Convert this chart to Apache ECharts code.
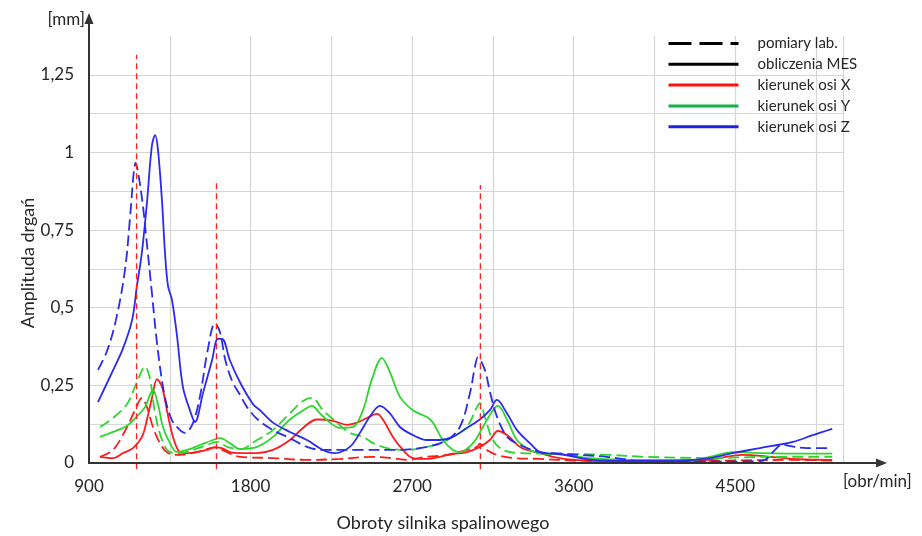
<!DOCTYPE html>
<html>
<head>
<meta charset="utf-8">
<script src="https://cdn.jsdelivr.net/npm/echarts@6/dist/echarts.min.js"></script>
<style>
  html, body { margin: 0; padding: 0; background: #fff; }
  #chart { width: 922px; height: 536px; }
</style>
</head>
<body>
<div id="chart"></div>
<script>
// Engine speed [obr/min] vs vibration amplitude [mm]; pairs are [rpm, amplitude]

// X direction
const xComputed = [
  [961,0.02],[1034,0.016],[1090,0.032],[1145,0.048],[1195,0.084],[1223,0.14],[1251,0.21],[1279,0.27],
  [1307,0.245],[1334,0.17],[1368,0.084],[1407,0.035],[1446,0.032],[1501,0.035],[1557,0.042],[1602,0.05],
  [1640,0.048],[1685,0.035],[1741,0.032],[1836,0.032],[1925,0.042],[2019,0.074],[2092,0.113],[2170,0.14],
  [2259,0.136],[2337,0.123],[2392,0.13],[2448,0.145],[2504,0.158],[2537,0.14],[2593,0.084],[2649,0.042],
  [2704,0.016],[2782,0.013],[2855,0.02],[2927,0.029],[3005,0.035],[3077,0.052],[3133,0.074],[3178,0.103],
  [3228,0.09],[3300,0.052],[3339,0.042],[3412,0.032],[3484,0.02],[3600,0.01],[3800,0.005],[4100,0.004],
  [4350,0.01],[4540,0.026],[4700,0.02],[4850,0.012],[5040,0.01]
];
const xMeasured = [
  [961,0.02],[1034,0.042],[1112,0.116],[1156,0.17],[1195,0.21],[1223,0.18],[1256,0.116],[1295,0.064],
  [1340,0.032],[1407,0.026],[1501,0.035],[1602,0.05],[1650,0.04],[1741,0.02],[1925,0.016],[2114,0.01],
  [2298,0.013],[2482,0.02],[2600,0.015],[2671,0.01],[2782,0.02],[2894,0.026],[3005,0.042],[3061,0.052],
  [3077,0.062],[3116,0.042],[3172,0.026],[3261,0.016],[3412,0.013],[3600,0.008],[4000,0.004],[4500,0.008],
  [4800,0.01],[5040,0.008]
];

// Y direction
const yComputed = [
  [961,0.084],[1034,0.10],[1112,0.12],[1167,0.15],[1212,0.18],[1256,0.235],[1284,0.19],[1312,0.116],
  [1351,0.064],[1390,0.035],[1446,0.042],[1518,0.058],[1591,0.074],[1630,0.08],[1685,0.064],[1741,0.045],
  [1836,0.052],[1925,0.084],[2019,0.14],[2114,0.177],[2142,0.184],[2186,0.16],[2242,0.13],[2298,0.113],
  [2370,0.116],[2426,0.17],[2476,0.27],[2532,0.338],[2576,0.293],[2632,0.213],[2704,0.17],[2782,0.148],
  [2816,0.13],[2871,0.074],[2927,0.042],[2966,0.035],[3039,0.064],[3094,0.116],[3150,0.17],[3178,0.184],
  [3228,0.14],[3284,0.074],[3356,0.042],[3412,0.032],[3562,0.026],[3707,0.015],[4000,0.01],[4264,0.01],
  [4358,0.02],[4486,0.035],[4637,0.032],[4821,0.03],[5040,0.03]
];
const yMeasured = [
  [961,0.116],[1034,0.145],[1112,0.19],[1167,0.26],[1212,0.31],[1240,0.27],[1268,0.16],[1307,0.074],
  [1351,0.035],[1407,0.032],[1479,0.042],[1557,0.058],[1613,0.068],[1669,0.052],[1741,0.045],[1836,0.074],
  [1925,0.106],[2019,0.16],[2092,0.2],[2142,0.21],[2203,0.17],[2281,0.13],[2353,0.097],[2426,0.084],
  [2482,0.064],[2560,0.048],[2671,0.042],[2782,0.052],[2855,0.064],[2927,0.084],[3005,0.116],[3061,0.18],
  [3077,0.193],[3105,0.148],[3150,0.074],[3206,0.042],[3300,0.032],[3500,0.03],[3800,0.026],[3985,0.02],
  [4358,0.016],[4700,0.02],[5040,0.02]
];

// Z direction
const zComputed = [
  [950,0.196],[1035,0.30],[1090,0.37],[1140,0.46],[1167,0.57],[1195,0.68],[1223,0.84],[1250,1.02],
  [1268,1.056],[1284,1.01],[1307,0.84],[1323,0.68],[1340,0.57],[1362,0.525],[1390,0.41],[1423,0.245],
  [1462,0.17],[1490,0.132],[1535,0.225],[1585,0.33],[1618,0.40],[1641,0.40],[1685,0.33],[1741,0.26],
  [1813,0.19],[1852,0.17],[1925,0.13],[2019,0.10],[2114,0.074],[2203,0.042],[2270,0.032],[2353,0.052],
  [2409,0.097],[2465,0.15],[2521,0.184],[2576,0.16],[2632,0.116],[2704,0.09],[2782,0.074],[2855,0.074],
  [2927,0.084],[3005,0.113],[3077,0.14],[3133,0.17],[3172,0.203],[3228,0.16],[3284,0.106],[3356,0.064],
  [3412,0.035],[3484,0.03],[3560,0.025],[3707,0.01],[3900,0.007],[4150,0.007],[4358,0.016],[4486,0.032],
  [4637,0.048],[4821,0.068],[4932,0.09],[5040,0.11]
];
const zMeasured = [
  [950,0.30],[1000,0.36],[1050,0.46],[1100,0.62],[1130,0.80],[1150,0.94],[1160,0.966],[1175,0.93],[1200,0.83],
  [1220,0.72],[1250,0.55],[1280,0.38],[1320,0.22],[1360,0.14],[1400,0.11],[1435,0.097],[1480,0.13],
  [1520,0.22],[1560,0.36],[1602,0.45],[1630,0.42],[1660,0.33],[1700,0.26],[1741,0.22],[1780,0.18],
  [1840,0.14],[1925,0.106],[2019,0.08],[2114,0.052],[2203,0.042],[2400,0.042],[2600,0.042],[2782,0.052],
  [2894,0.074],[2966,0.116],[3022,0.225],[3050,0.31],[3066,0.34],[3105,0.30],[3133,0.23],[3172,0.15],
  [3228,0.085],[3300,0.058],[3412,0.035],[3484,0.032],[3634,0.026],[3785,0.02],[4000,0.005],[4300,0.004],
  [4600,0.005],[4665,0.01],[4709,0.035],[4765,0.06],[4800,0.055],[4900,0.048],[5040,0.048]
];

// Resonance speeds marked with vertical dashed lines
const resonanceRpm = [1165, 1610, 3080];
const resonanceTop = [1.315, 0.902, 0.895];

// Axis ticks
const xTickStep = 450;
const xLabelStep = 900;
const yTickStep = 0.125;
const yLabelStep = 0.25;

const legendNames = ['pomiary lab.', 'obliczenia MES', 'kierunek osi X', 'kierunek osi Y', 'kierunek osi Z'];

const RED = '#ff1a1a', GREEN = '#2fd52f', BLUE = '#2a2af0';
const FONT = 'Lato, "Open Sans", sans-serif';
const TXT = '#262626';

function dataLine(name, data, color, dashed) {
  return {
    name: name, type: 'line', data: data, symbol: 'none', smooth: 0.35,
    lineStyle: { color: color, width: 1.8, type: dashed ? [11, 5] : 'solid' },
    itemStyle: { color: color }, z: 3
  };
}
function legendLine(name, color, dashed) {
  return {
    name: name, type: 'line', data: [], symbol: 'none',
    lineStyle: { color: color, width: 3, type: dashed ? [23, 8] : 'solid' },
    itemStyle: { color: color }
  };
}

const series = [
  legendLine(legendNames[0], '#000', true),
  legendLine(legendNames[1], '#000', false),
  legendLine(legendNames[2], '#ff1010', false),
  legendLine(legendNames[3], '#16b04a', false),
  legendLine(legendNames[4], '#2020e0', false),
  dataLine('X MES', xComputed, RED, false),
  dataLine('X lab', xMeasured, RED, true),
  dataLine('Y MES', yComputed, GREEN, false),
  dataLine('Y lab', yMeasured, GREEN, true),
  dataLine('Z MES', zComputed, BLUE, false),
  dataLine('Z lab', zMeasured, BLUE, true)
];
resonanceRpm.forEach(function (rpm, i) {
  series.push({
    name: 'rez' + i, type: 'line', symbol: 'none', clip: false, z: 4,
    data: [[rpm, -0.02], [rpm, resonanceTop[i]]],
    lineStyle: { color: '#ff2020', width: 1.3, type: [6, 4] }
  });
});

function fmtY(v) {
  const r = Math.round(v * 1000) / 1000;
  if (Math.abs(r / yLabelStep - Math.round(r / yLabelStep)) > 1e-6) return '';
  if (r > 1.3) return '';
  return String(r).replace('.', ',');
}
function fmtX(v) {
  return (v % xLabelStep === 0) ? String(v) : '';
}

const chart = echarts.init(document.getElementById('chart'), null, { renderer: 'canvas' });
chart.setOption({
  animation: false,
  backgroundColor: '#fff',
  textStyle: { fontFamily: FONT },
  grid: { left: 89, right: 79, top: 36, bottom: 73, containLabel: false },
  legend: {
    data: legendNames, orient: 'vertical', left: 662, top: 31,
    itemWidth: 70, itemHeight: 14, itemGap: 5.8,
    itemStyle: { opacity: 0 },
    lineStyle: { width: 3 },
    textStyle: { fontFamily: FONT, fontSize: 15, color: TXT, padding: [0, 0, 0, 14] },
    selectedMode: false
  },
  xAxis: {
    type: 'value', min: 900, max: 5100, interval: xTickStep,
    axisLine: { show: false }, axisTick: { show: false },
    axisLabel: { formatter: fmtX, fontFamily: FONT, fontSize: 17, color: TXT, margin: 15, showMaxLabel: false },
    splitLine: { show: true, lineStyle: { color: '#d6d6d6', width: 1.2 } }
  },
  yAxis: {
    type: 'value', min: 0, max: 1.375, interval: yTickStep,
    axisLine: { show: false }, axisTick: { show: false },
    axisLabel: { formatter: fmtY, fontFamily: FONT, fontSize: 17, color: TXT, margin: 15, showMaxLabel: false },
    splitLine: { show: true, showMaxLine: false, lineStyle: { color: '#d6d6d6', width: 1.2 } }
  },
  series: series,
  graphic: [
    { type: 'line', shape: { x1: 89, y1: 463, x2: 878, y2: 463 }, style: { stroke: '#333', lineWidth: 2 }, z: 10 },
    { type: 'polygon', shape: { points: [[887, 463], [876, 458.5], [876, 467.5]] }, style: { fill: '#333' }, z: 10 },
    { type: 'line', shape: { x1: 89, y1: 464, x2: 89, y2: 22 }, style: { stroke: '#333', lineWidth: 2 }, z: 10 },
    { type: 'polygon', shape: { points: [[89, 13], [84.5, 24], [93.5, 24]] }, style: { fill: '#333' }, z: 10 },
    { type: 'text', x: 85, y: 20, style: { text: '[mm]', fontFamily: FONT, fontSize: 17, fill: TXT, align: 'right', verticalAlign: 'middle' } },
    { type: 'text', x: 843, y: 482, style: { text: '[obr/min]', fontFamily: FONT, fontSize: 17, fill: TXT, align: 'left', verticalAlign: 'middle' } },
    { type: 'text', x: 443, y: 523, style: { text: 'Obroty silnika spalinowego', fontFamily: FONT, fontSize: 18, fill: TXT, align: 'center', verticalAlign: 'middle' } },
    { type: 'text', x: 28, y: 263, rotation: Math.PI / 2, style: { text: 'Amplituda drgań', fontFamily: FONT, fontSize: 18, fill: TXT, align: 'center', verticalAlign: 'middle' } }
  ]
});
</script>
</body>
</html>
